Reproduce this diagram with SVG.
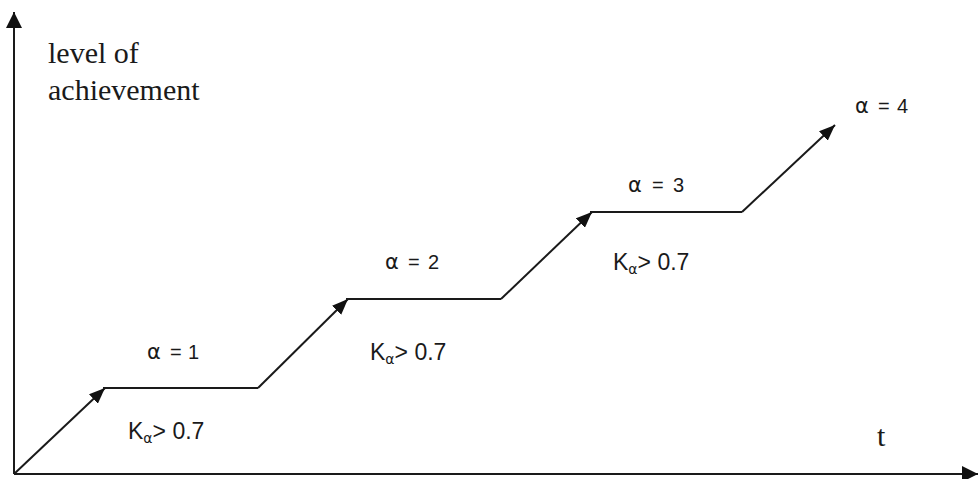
<svg xmlns="http://www.w3.org/2000/svg" width="978" height="479" viewBox="0 0 978 479">
<style>
.ln{stroke:#1a1a1a;stroke-width:2;fill:none}
.lbl{font-family:"Liberation Sans",Arial,sans-serif;font-size:20px;fill:#1a1a1a}
.a{font-family:"DejaVu Sans","Liberation Sans",sans-serif;font-size:21px}
.k{font-family:"Liberation Sans",Arial,sans-serif;font-size:23px;fill:#1a1a1a}
.sub{font-family:"DejaVu Sans","Liberation Sans",sans-serif;font-size:14px}
.ser{font-family:"Liberation Serif","Times New Roman",serif;font-size:30px;fill:#1a1a1a}
</style>
<defs>
<marker id="ah" markerUnits="userSpaceOnUse" markerWidth="17" markerHeight="13" refX="16" refY="6.5" orient="auto">
<path d="M0,0 L16,6.5 L0,13 z" fill="#111"/>
</marker>
<marker id="ax" markerUnits="userSpaceOnUse" markerWidth="16" markerHeight="16" refX="16" refY="8" orient="auto">
<path d="M0,0 L16,8 L0,16 z" fill="#111"/>
</marker>
</defs>
<rect width="978" height="479" fill="#fff"/>
<g id="connectors">
<line class="ln" x1="14" y1="474" x2="14" y2="12" marker-end="url(#ax)"/>
<line class="ln" x1="14" y1="474" x2="978" y2="474" marker-end="url(#ax)"/>
<line class="ln" x1="14" y1="474" x2="105" y2="388" marker-end="url(#ah)"/>
<line class="ln" x1="103" y1="388" x2="258" y2="388"/>
<line class="ln" x1="258" y1="388" x2="348" y2="299" marker-end="url(#ah)"/>
<line class="ln" x1="346" y1="299" x2="501" y2="299"/>
<line class="ln" x1="501" y1="299" x2="592" y2="212" marker-end="url(#ah)"/>
<line class="ln" x1="590" y1="212" x2="742" y2="212"/>
<line class="ln" x1="742" y1="212" x2="835" y2="125" marker-end="url(#ah)"/>
</g>
<g id="yaxis-label"><text class="ser"><tspan x="48" y="63">level of</tspan><tspan x="48" y="100">achievement</tspan></text></g>
<g id="xaxis-label"><text class="ser" x="877" y="446">t</text></g>
<g id="alpha1"><text class="lbl" y="359"><tspan class="a" x="147">α</tspan><tspan x="170">=</tspan><tspan x="188">1</tspan></text></g>
<g id="k1"><text class="k" x="128" y="439">K<tspan class="sub" dy="4">α</tspan><tspan dy="-4">&gt; 0.7</tspan></text></g>
<g id="alpha2"><text class="lbl" y="269"><tspan class="a" x="385">α</tspan><tspan x="408">=</tspan><tspan x="428">2</tspan></text></g>
<g id="k2"><text class="k" x="370" y="360">K<tspan class="sub" dy="4">α</tspan><tspan dy="-4">&gt; 0.7</tspan></text></g>
<g id="alpha3"><text class="lbl" y="192"><tspan class="a" x="628">α</tspan><tspan x="652">=</tspan><tspan x="673">3</tspan></text></g>
<g id="k3"><text class="k" x="613" y="270">K<tspan class="sub" dy="4">α</tspan><tspan dy="-4">&gt; 0.7</tspan></text></g>
<g id="alpha4"><text class="lbl" y="113"><tspan class="a" x="855">α</tspan><tspan x="878">=</tspan><tspan x="897">4</tspan></text></g>
</svg>
